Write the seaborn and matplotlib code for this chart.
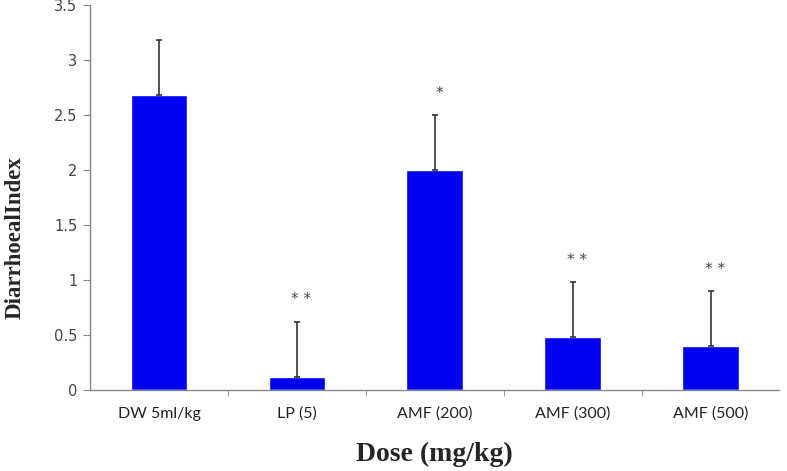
import matplotlib
matplotlib.use("Agg")
import matplotlib.pyplot as plt
import seaborn as sns
import numpy as np
import pandas as pd

# data
doses = ["DW 5ml/kg", "LP (5)", "AMF (200)", "AMF (300)", "AMF (500)"]
diarrhoeal_index = [2.68, 0.12, 2.0, 0.48, 0.40]
sem = [0.5, 0.5, 0.5, 0.5, 0.5]
significance = ["", "**", "*", "**", "**"]

df = pd.DataFrame({"dose": doses, "index": diarrhoeal_index})

sns.set_style("white")

fig = plt.figure(figsize=(7.87, 4.71), dpi=100)
ax = fig.add_axes([0.1144, 0.172, 0.876, 0.817])

sns.barplot(
    data=df,
    x="dose",
    y="index",
    color="#0000F5",
    saturation=1,
    width=0.41,
    ax=ax
)

pos = np.arange(len(doses))
ax.errorbar(
    pos,
    diarrhoeal_index,
    yerr=[np.zeros(len(sem)), sem],
    fmt="none",
    ecolor="#333333",
    elinewidth=1.2,
    capsize=2.5,
    capthick=1.2
)

for x, v, e, s in zip(pos, diarrhoeal_index, sem, significance):
    if s:
        ax.text(x + 0.03, v + e + 0.2, s.replace("*", "* ").strip(),
                ha="center", va="center", fontsize=11, color="#444444")

ax.set_ylim(0, 3.5)
ax.set_xlim(-0.5, len(doses) - 0.5)
ax.set_yticks(np.arange(0, 3.6, 0.5))
ax.set_yticklabels(["0", "0.5", "1", "1.5", "2", "2.5", "3", "3.5"])

ax.set_xticks(pos)
ax.set_xticklabels(doses, fontfamily="Lato", fontsize=11.5, color="#222222")
ax.set_xticks(pos[:-1] + 0.5, minor=True)
ax.tick_params(axis="x", which="major", length=0, pad=12)
ax.tick_params(axis="x", which="minor", length=4, direction="out",
               color="#888888", bottom=True)
ax.tick_params(axis="y", length=5, direction="out", color="#888888",
               left=True, labelsize=10.5, labelcolor="#444444", pad=4)

for side in ["top", "right"]:
    ax.spines[side].set_visible(False)
for side in ["left", "bottom"]:
    ax.spines[side].set_color("#888888")
    ax.spines[side].set_linewidth(1.0)

ax.set_xlabel("Dose (mg/kg)", fontfamily="Liberation Serif",
              fontweight="bold", fontsize=20, labelpad=15)
ax.set_ylabel("DiarrhoealIndex", fontfamily="Liberation Serif",
              fontweight="bold", fontsize=16.5)
ax.yaxis.set_label_coords(-0.094, 0.395)

fig.savefig("out.png", dpi=100, facecolor="white")
